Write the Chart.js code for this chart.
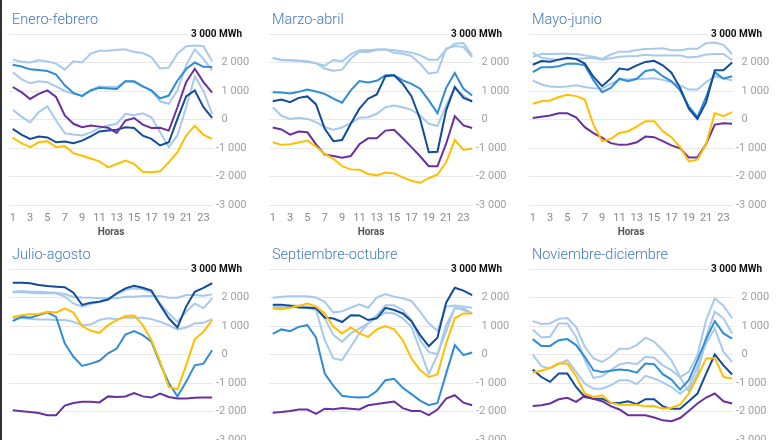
<!DOCTYPE html>
<html lang="es">
<head>
<meta charset="utf-8">
<title>Saldo horario por bimestre</title>
<script src="https://cdn.jsdelivr.net/npm/chart.js@4.4.1/dist/chart.umd.min.js"></script>
<style>
  html, body { margin: 0; padding: 0; background: #fff; }
  body { width: 780px; height: 440px; overflow: hidden; position: relative; font-family: Roboto, sans-serif; }
  .panel { position: absolute; width: 260px; height: 240px; }
  .panel canvas { position: absolute; left: 0; top: 0; }
  .titulo { position: absolute; left: 12px; top: 11px; font-size: 14.5px; font-weight: 300; line-height: 18px; color: #3f79c2; white-space: nowrap; }
  .borde { position: absolute; left: 0; top: 0; width: 2px; height: 440px; background: #333; }
</style>
</head>
<body>
<div class="borde"></div>
<div id="paneles"></div>
<script>
// Horas del día y bimestres
const horas = [1, 2, 3, 4, 5, 6, 7, 8, 9, 10, 11, 12, 13, 14, 15, 16, 17, 18, 19, 20, 21, 22, 23, 24];
const periodos = ['Enero-febrero', 'Marzo-abril', 'Mayo-junio', 'Julio-agosto', 'Septiembre-octubre', 'Noviembre-diciembre'];
const ticksX = [1, 3, 5, 7, 9, 11, 13, 15, 17, 19, 21, 23];
const ticksY = [-3000, -2000, -1000, 0, 1000, 2000, 3000];

// Valores (MWh) por serie, una fila por bimestre
const azulClaro1 = [
    [2100, 2030, 2000, 2080, 2040, 1960, 1750, 2040, 2000, 2310, 2410, 2410, 2450, 2460, 2370, 2330, 2190, 1790, 1820, 2310, 2570, 2600, 2570, 2040],
    [2160, 2100, 2080, 2060, 2020, 1970, 1890, 2090, 2040, 2290, 2430, 2430, 2460, 2460, 2430, 2390, 2340, 2260, 2100, 2100, 2450, 2660, 2680, 2250],
    [2200, 2300, 2300, 2310, 2310, 2300, 2250, 2200, 2120, 2280, 2380, 2380, 2440, 2470, 2480, 2500, 2430, 2430, 2480, 2480, 2680, 2700, 2620, 2300],
    [2200, 2230, 2200, 2200, 2180, 2170, 2120, 2020, 2000, 1990, 1970, 1970, 1970, 2030, 2030, 2050, 2050, 2050, 1990, 1990, 2090, 2090, 2060, 2110],
    [1990, 2030, 2040, 2040, 2040, 2000, 1850, 1470, 1520, 1640, 1760, 1640, 2000, 2120, 2030, 1970, 1880, 1500, 1090, 830, 1680, 1720, 1680, 1640],
    [1170, 1070, 1090, 1250, 1280, 970, 270, -140, -260, -80, 210, 190, 330, 590, 450, 150, -200, -790, -610, -20, 1210, 1970, 1710, 1270]
];
const azulClaro2 = [
    [1660, 1420, 1270, 1340, 1310, 1160, 1000, 900, 840, 1040, 1160, 1140, 1140, 1340, 1310, 1160, 1000, 640, 550, 1020, 1900, 2460, 2130, 1720],
    [2170, 2080, 2080, 2060, 2040, 1980, 1780, 1710, 1750, 2130, 2390, 2370, 2450, 2460, 2340, 2310, 2230, 1960, 1610, 1660, 2490, 2580, 2540, 2190],
    [2350, 2170, 2120, 2100, 2120, 2130, 2150, 2170, 2100, 2150, 2200, 2220, 2230, 2270, 2250, 2250, 2250, 2250, 2180, 2200, 2280, 2300, 2300, 2080],
    [2180, 2180, 2170, 2150, 2150, 2150, 2030, 1790, 1680, 1770, 1850, 1970, 2110, 2260, 2320, 2290, 2170, 1790, 1440, 1150, 1500, 1790, 1620, 1970],
    [1680, 1680, 1730, 1710, 1680, 1620, 1270, 680, 450, 740, 910, 1090, 1380, 1730, 1730, 1560, 1210, 500, 90, 10, 800, 1640, 1560, 1440],
    [880, 600, 620, 1090, 1090, 620, -200, -820, -760, -550, -350, -290, -340, -80, -110, -380, -550, -810, -1280, -670, 620, 1500, 1270, 740]
];
const azulClaro3 = [
    [340, 100, -100, 260, 460, -35, -480, -530, -560, -450, -300, -210, -150, 200, 150, 220, 80, -450, -970, -560, 430, 1510, 1000, 200],
    [430, 130, 20, 60, 20, -90, -270, -360, -280, -130, 60, 80, 200, 430, 490, 430, 340, 140, -150, -230, 490, 1110, 840, 610],
    [1370, 1230, 1160, 1140, 1160, 1200, 1140, 1100, 1080, 1250, 1400, 1410, 1410, 1430, 1450, 1390, 1310, 1200, 1050, 1050, 1310, 1520, 1450, 1370],
    [1270, 1270, 1250, 1230, 1230, 1210, 1210, 1150, 1030, 1050, 1210, 1270, 1240, 1290, 1300, 1290, 1240, 1150, 1030, 880, 950, 1090, 1110, 1240],
    [1680, 1620, 1680, 1680, 1640, 1560, 500, -140, -200, 270, 740, 1090, 1290, 1470, 1440, 1270, 970, 150, -670, -20, 1030, 1620, 1620, 1440],
    [0, -410, -490, -320, -200, -610, -1020, -1200, -1200, -1080, -900, -900, -1040, -750, -840, -980, -1140, -1380, -1140, -430, 390, 910, 90, -260]
];
const azulMedio = [
    [1920, 1860, 1760, 1740, 1700, 1580, 1200, 930, 820, 1020, 1110, 1090, 1070, 1340, 1340, 1160, 1020, 740, 840, 1370, 1770, 2000, 1850, 1840],
    [960, 950, 910, 970, 1050, 980, 900, 730, 590, 1020, 1350, 1300, 1360, 1550, 1550, 1370, 1250, 1080, 670, 220, 1110, 1630, 1080, 840],
    [1660, 1830, 1830, 1870, 1960, 1960, 1900, 1380, 960, 1110, 1430, 1340, 1430, 1700, 1750, 1520, 1340, 1020, 460, 80, 790, 1660, 1430, 1520],
    [1170, 1320, 1290, 1380, 1480, 1320, 390, -80, -400, -320, -220, 40, 210, 700, 820, 680, 450, -320, -1000, -1470, -960, -380, -320, 150],
    [720, 880, 820, 970, 1030, 590, -670, -1100, -1450, -1490, -1510, -1490, -1280, -900, -850, -1170, -1390, -1620, -1780, -1700, -670, 330, -20, 70],
    [540, 300, 300, 500, 540, 330, -80, -550, -610, -570, -530, -550, -640, -320, -340, -690, -880, -1230, -900, -200, 540, 1170, 740, 560]
];
const azulOscuro = [
    [-330, -530, -680, -600, -630, -800, -770, -830, -740, -590, -420, -390, -360, -270, -300, -570, -680, -910, -800, 20, 810, 1020, 430, 60],
    [640, 700, 610, 760, 810, 530, -330, -760, -720, -150, 380, 730, 880, 1520, 1550, 1250, 820, 20, -1150, -1130, 320, 1140, 760, 640],
    [1920, 2050, 2030, 2100, 2170, 2120, 1960, 1500, 1170, 1440, 1790, 1750, 1900, 2020, 2060, 1900, 1640, 1110, 380, 20, 610, 1730, 1730, 2000],
    [2520, 2520, 2500, 2440, 2400, 2380, 2360, 2170, 1740, 1820, 1850, 1930, 2150, 2320, 2410, 2340, 2240, 1740, 1270, 950, 1680, 2200, 2340, 2500],
    [1750, 1750, 1710, 1650, 1640, 1620, 1300, 1260, 1140, 1380, 1370, 1210, 1270, 1640, 1560, 1440, 1170, 680, 290, 590, 1820, 2340, 2240, 2080],
    [-530, -790, -960, -670, -670, -1140, -1490, -1550, -1550, -1690, -1700, -1640, -1740, -1570, -1570, -1820, -1900, -1900, -1640, -1370, -670, 0, -380, -700]
];
const morado = [
    [1140, 960, 720, 900, 1020, 790, 140, -150, -270, -210, -250, -290, -470, -35, 50, -180, -300, -290, -390, 430, 1310, 1780, 1310, 940],
    [-280, -350, -530, -420, -450, -870, -1230, -1280, -1340, -1280, -870, -660, -660, -390, -360, -660, -970, -1290, -1640, -1640, -850, 120, -210, -300],
    [50, 100, 140, 220, 220, 80, -270, -480, -640, -830, -890, -880, -800, -600, -620, -760, -910, -1010, -1330, -1330, -860, -180, -130, -150],
    [-1960, -1990, -2020, -2050, -2130, -2130, -1790, -1700, -1660, -1660, -1680, -1470, -1490, -1470, -1350, -1470, -1510, -1370, -1490, -1540, -1540, -1520, -1510, -1510],
    [-2040, -2020, -1980, -1930, -1930, -2080, -1900, -1920, -1880, -1900, -1930, -1780, -1740, -1690, -1650, -1880, -1980, -1980, -2130, -1930, -1550, -1430, -1690, -1780],
    [-1810, -1780, -1720, -1570, -1520, -1660, -1450, -1550, -1640, -1810, -1930, -2130, -2130, -2130, -2210, -2310, -2340, -2230, -1980, -1720, -1510, -1370, -1640, -1720]
];
const amarillo = [
    [-640, -830, -970, -800, -760, -970, -930, -1180, -1270, -1370, -1470, -1680, -1560, -1440, -1560, -1830, -1850, -1820, -1500, -1150, -560, -220, -540, -680],
    [-800, -890, -870, -810, -740, -950, -1210, -1380, -1640, -1750, -1760, -1910, -1960, -1860, -1890, -2030, -2150, -2220, -2060, -1930, -1500, -720, -1070, -1020],
    [550, 640, 670, 790, 870, 820, 700, -180, -760, -680, -470, -410, -250, -60, -60, -410, -620, -970, -1470, -1410, -860, 230, 120, 260],
    [1320, 1380, 1410, 1420, 1500, 1470, 1620, 1470, 1000, 830, 760, 1030, 1210, 1350, 1370, 1030, 500, -260, -1140, -1220, -380, 540, 800, 1210],
    [1610, 1590, 1640, 1700, 1790, 1680, 1440, 970, 740, 950, 740, 620, 880, 1000, 880, 500, -140, -550, -790, -700, 390, 1270, 1440, 1440],
    [-630, -570, -470, -320, -320, -760, -1370, -1490, -1430, -1690, -1760, -1760, -1760, -1820, -1810, -1900, -1870, -1760, -1370, -790, -140, -120, -790, -840]
];

// Orden de dibujo: el primero queda encima
const series = [
    { datos: amarillo, color: '#ffbf00' },
    { datos: morado, color: '#6a30a0' },
    { datos: azulOscuro, color: '#114c9a' },
    { datos: azulMedio, color: '#2f8cd8' },
    { datos: azulClaro1, color: '#a6c9ec' },
    { datos: azulClaro2, color: '#a6c9ec' },
    { datos: azulClaro3, color: '#a6c9ec' }
];

Chart.defaults.font.family = 'Roboto, sans-serif';

// Formato "2 000" / "-1 000"
const formatoMiles = v => {
    const s = Math.abs(v).toString().replace(/\B(?=(\d{3})+(?!\d))/g, ' ');
    return v < 0 ? '-' + s : '\u2002' + s;
};

// Etiqueta "3 000 MWh" sobre la línea superior
const etiquetaMax = {
    id: 'etiquetaMax',
    beforeDatasetsDraw(chart) {
        const { ctx, chartArea, scales } = chart;
        const y = scales.y.getPixelForValue(3000);
        ctx.save();
        ctx.fillStyle = '#fff';
        ctx.fillRect(chartArea.right - 25, y - 2, 27, 4);
        ctx.font = 'bold 10px Roboto, sans-serif';
        ctx.fillStyle = '#111';
        ctx.textAlign = 'right';
        ctx.textBaseline = 'middle';
        ctx.fillText('3 000 MWh', chartArea.right + 29, y);
        ctx.restore();
    }
};

const contenedor = document.getElementById('paneles');

periodos.forEach((titulo, i) => {
    const panel = document.createElement('div');
    panel.className = 'panel';
    panel.style.left = (i % 3) * 260 + 'px';
    panel.style.top = Math.floor(i / 3) * 235 + 'px';
    const canvas = document.createElement('canvas');
    canvas.width = 260;
    canvas.height = 240;
    const rotulo = document.createElement('div');
    rotulo.className = 'titulo';
    rotulo.textContent = titulo;
    panel.appendChild(canvas);
    panel.appendChild(rotulo);
    contenedor.appendChild(panel);

    new Chart(canvas.getContext('2d'), {
        type: 'line',
        data: {
            labels: horas,
            datasets: series.map(s => ({
                data: s.datos[i],
                borderColor: s.color,
                backgroundColor: s.color,
                borderWidth: 2,
                pointRadius: 0,
                tension: 0,
                fill: false
            }))
        },
        options: {
            responsive: false,
            animation: false,
            layout: { padding: { left: 9, top: 34, right: 7, bottom: 2 } },
            plugins: {
                legend: { display: false },
                tooltip: { enabled: false },
                title: { display: false }
            },
            scales: {
                x: {
                    type: 'linear',
                    min: 0.57,
                    max: 24.1,
                    afterBuildTicks: s => { s.ticks = ticksX.map(v => ({ value: v })); },
                    afterFit: s => { s.height = 33; },
                    grid: { display: false, drawTicks: false },
                    border: { display: false },
                    ticks: { autoSkip: false, maxRotation: 0, color: '#888', font: { size: 11 }, padding: 7 },
                    title: {
                        display: true,
                        text: 'Horas',
                        color: '#555',
                        font: { size: 10, weight: 'bold' },
                        padding: 0
                    }
                },
                y: {
                    position: 'right',
                    min: -3000,
                    max: 3000,
                    afterBuildTicks: s => { s.ticks = ticksY.map(v => ({ value: v })); },
                    afterFit: s => { s.width = 40; },
                    grid: { color: '#e8e8e8', drawTicks: false },
                    border: { display: false },
                    ticks: {
                        color: '#a0a0a0',
                        font: { size: 11 },
                        padding: 3,
                        callback: v => (v === 3000 ? '' : formatoMiles(v))
                    }
                }
            }
        },
        plugins: [etiquetaMax]
    });
});
</script>
</body>
</html>
